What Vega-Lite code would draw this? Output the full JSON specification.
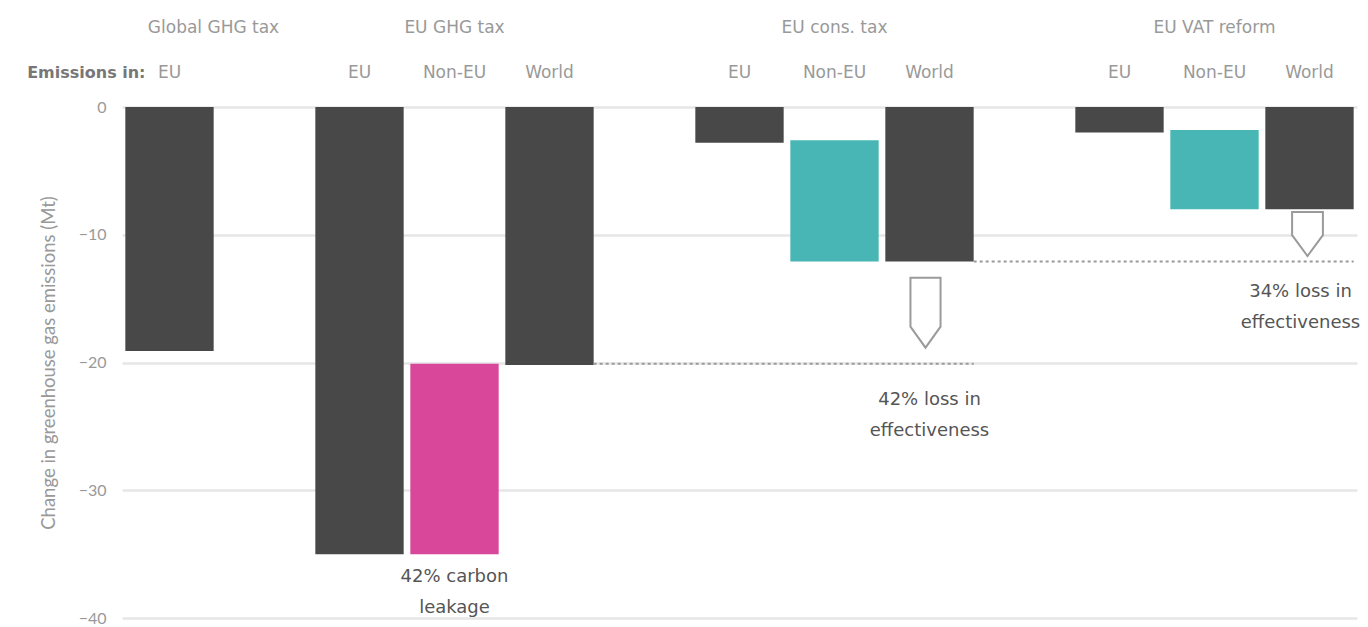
{
  "$schema": "https://vega.github.io/schema/vega-lite/v6.json",
  "width": 1235,
  "height": 511,
  "autosize": {"type": "none"},
  "padding": {"left": 122, "top": 107, "right": 11, "bottom": 9},
  "config": {"view": {"stroke": null}, "font": "DejaVu Sans", "text": {"font": "DejaVu Sans"}},
  "datasets": {
    "bars": [
      {"key": "G-EU", "scenario": "Global GHG tax", "region": "EU", "type": "total", "start": 0, "end": -19.1},
      {"key": "GHG-EU", "scenario": "EU GHG tax", "region": "EU", "type": "total", "start": 0, "end": -35.0},
      {"key": "GHG-NonEU", "scenario": "EU GHG tax", "region": "Non-EU", "type": "leakage", "start": -20.1, "end": -35.0},
      {"key": "GHG-World", "scenario": "EU GHG tax", "region": "World", "type": "total", "start": 0, "end": -20.2},
      {"key": "C-EU", "scenario": "EU cons. tax", "region": "EU", "type": "total", "start": 0, "end": -2.8},
      {"key": "C-NonEU", "scenario": "EU cons. tax", "region": "Non-EU", "type": "nonEU", "start": -2.6, "end": -12.1},
      {"key": "C-World", "scenario": "EU cons. tax", "region": "World", "type": "total", "start": 0, "end": -12.1},
      {"key": "V-EU", "scenario": "EU VAT reform", "region": "EU", "type": "total", "start": 0, "end": -2.0},
      {"key": "V-NonEU", "scenario": "EU VAT reform", "region": "Non-EU", "type": "nonEU", "start": -1.8, "end": -8.0},
      {"key": "V-World", "scenario": "EU VAT reform", "region": "World", "type": "total", "start": 0, "end": -8.0}
    ],
    "titles": [
      {"key": "G-EU", "title": "Global GHG tax"},
      {"key": "GHG-NonEU", "title": "EU GHG tax"},
      {"key": "C-NonEU", "title": "EU cons. tax"},
      {"key": "V-NonEU", "title": "EU VAT reform"}
    ],
    "lead": [{"key": "G-EU", "text": "Emissions in:"}],
    "refs": [
      {"key": "GHG-World", "key2": "C-World", "level": -20.1},
      {"key": "C-World", "key2": "V-World", "level": -12.1}
    ],
    "notes": [
      {"key": "GHG-NonEU", "pos": -36.8, "text": ["42% carbon", "leakage"]},
      {"key": "C-World", "pos": -22.9, "text": ["42% loss in", "effectiveness"]},
      {"key": "V-World", "pos": -14.5, "text": ["34% loss in", "effectiveness"]}
    ],
    "arrowC": [{"key": "C-World", "mid": -16.1}],
    "arrowV": [{"key": "V-World", "mid": -9.94}]
  },
  "encoding": {
    "x": {
      "field": "key",
      "type": "nominal",
      "scale": {
        "domain": ["G-EU", "gap1", "GHG-EU", "GHG-NonEU", "GHG-World", "gap2", "C-EU", "C-NonEU", "C-World", "gap3", "V-EU", "V-NonEU", "V-World"],
        "paddingInner": 0.07,
        "paddingOuter": 0.035
      },
      "axis": null
    }
  },
  "layer": [
    {
      "data": {"name": "bars"},
      "mark": {"type": "bar"},
      "encoding": {
        "y": {
          "field": "start",
          "type": "quantitative",
          "scale": {"domain": [-40, 0], "nice": false},
          "title": "Change in greenhouse gas emissions (Mt)",
          "axis": {
            "values": [0, -10, -20, -30, -40],
            "domain": false,
            "ticks": false,
            "labelFont": "Lato",
            "labelColor": "#999999",
            "labelFontSize": 16,
            "labelPadding": 16,
            "titleFont": "Lato",
            "titleColor": "#999999",
            "titleFontSize": 18.5,
            "titleFontWeight": "normal",
            "titlePadding": 20,
            "gridColor": "#e6e6e6",
            "gridWidth": 2.5
          }
        },
        "y2": {"field": "end"},
        "color": {
          "field": "type",
          "type": "nominal",
          "scale": {"domain": ["total", "leakage", "nonEU"], "range": ["#484848", "#d9479a", "#48b6b4"]},
          "legend": null
        }
      }
    },
    {
      "data": {"name": "refs"},
      "mark": {"type": "rule", "strokeDash": [3, 3], "color": "#9a9a9a", "strokeWidth": 2},
      "encoding": {
        "x": {"field": "key", "type": "nominal", "bandPosition": 1},
        "x2": {"field": "key2", "bandPosition": 1},
        "y": {"field": "level", "type": "quantitative", "scale": {"domain": [-40, 0]}, "title": "Change in greenhouse gas emissions (Mt)"}
      }
    },
    {
      "data": {"name": "arrowC"},
      "mark": {"type": "point", "shape": "M-0.43,-1L0.43,-1L0.43,0.4L0,1L-0.43,0.4Z", "size": 4900, "filled": true, "fill": "white", "stroke": "#9a9a9a", "strokeWidth": 2, "opacity": 1, "xOffset": -4},
      "encoding": {
        "y": {"field": "mid", "type": "quantitative", "scale": {"domain": [-40, 0]}, "title": "Change in greenhouse gas emissions (Mt)"}
      }
    },
    {
      "data": {"name": "arrowV"},
      "mark": {"type": "point", "shape": "M-0.7,-1L0.7,-1L0.7,0.05L0,1L-0.7,0.05Z", "size": 1936, "filled": true, "fill": "white", "stroke": "#9a9a9a", "strokeWidth": 2, "opacity": 1, "xOffset": -2},
      "encoding": {
        "y": {"field": "mid", "type": "quantitative", "scale": {"domain": [-40, 0]}, "title": "Change in greenhouse gas emissions (Mt)"}
      }
    },
    {
      "data": {"name": "bars"},
      "mark": {"type": "text", "fontSize": 17, "color": "#999999", "baseline": "middle"},
      "encoding": {
        "y": {"datum": 2.66},
        "text": {"field": "region"}
      }
    },
    {
      "data": {"name": "lead"},
      "mark": {"type": "text", "fontSize": 16, "fontWeight": "bold", "color": "#777777", "baseline": "middle", "align": "right", "dx": -24},
      "encoding": {
        "y": {"datum": 2.66},
        "text": {"field": "text"}
      }
    },
    {
      "data": {"name": "titles"},
      "transform": [{"filter": "datum.key !== 'G-EU'"}],
      "mark": {"type": "text", "fontSize": 17, "color": "#999999", "baseline": "middle"},
      "encoding": {
        "y": {"datum": 6.18},
        "text": {"field": "title"}
      }
    },
    {
      "data": {"name": "titles"},
      "transform": [{"filter": "datum.key === 'G-EU'"}],
      "mark": {"type": "text", "fontSize": 17, "color": "#999999", "baseline": "middle", "dx": 44},
      "encoding": {
        "y": {"datum": 6.18},
        "text": {"field": "title"}
      }
    },
    {
      "data": {"name": "notes"},
      "transform": [{"filter": "datum.key !== 'V-World'"}],
      "mark": {"type": "text", "fontSize": 18, "color": "#555555", "baseline": "middle", "lineHeight": 31},
      "encoding": {
        "y": {"field": "pos", "type": "quantitative", "scale": {"domain": [-40, 0]}, "title": "Change in greenhouse gas emissions (Mt)"},
        "text": {"field": "text"}
      }
    },
    {
      "data": {"name": "notes"},
      "transform": [{"filter": "datum.key === 'V-World'"}],
      "mark": {"type": "text", "fontSize": 18, "color": "#555555", "baseline": "middle", "lineHeight": 31, "dx": -9},
      "encoding": {
        "y": {"field": "pos", "type": "quantitative", "scale": {"domain": [-40, 0]}, "title": "Change in greenhouse gas emissions (Mt)"},
        "text": {"field": "text"}
      }
    }
  ]
}
